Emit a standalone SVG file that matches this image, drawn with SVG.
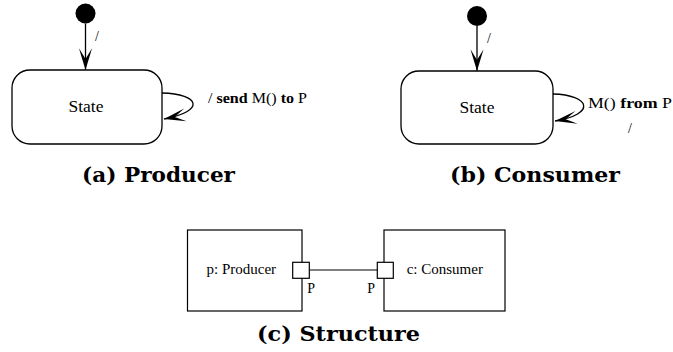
<svg xmlns="http://www.w3.org/2000/svg" width="673" height="352" viewBox="0 0 673 352">
<style>
  .bg { fill: #ffffff; }
  .state { fill: #ffffff; stroke: #000; stroke-width: 1.3; }
  .box { fill: #ffffff; stroke: #000; stroke-width: 1.2; }
  .port { fill: #ffffff; stroke: #000; stroke-width: 1.2; }
  .init { fill: #000; }
  .edge { fill: none; stroke: #000; stroke-width: 1.3; }
  .conn { fill: none; stroke: #000; stroke-width: 1.1; }
  .t { font-family: "Liberation Serif", "Times New Roman", serif; fill: #000; }
  .b { font-weight: bold; }
  .cap { font-family: "DejaVu Serif", "Liberation Serif", serif; font-weight: bold; font-size: 19.5px; fill: #000; }
</style>
<defs>
  <marker id="arr" markerUnits="userSpaceOnUse" markerWidth="24" markerHeight="16" viewBox="-21 -7 22 14" refX="0" refY="0" orient="auto">
    <path d="M0,0 L-20,-6 L-10,0 L-20,6 Z" fill="#000"/>
  </marker>
</defs>
<rect class="bg" x="0" y="0" width="673" height="352"/>

<g id="producer-initial">
  <circle class="init" cx="85.5" cy="13.5" r="10"/>
</g>
<g id="producer-state">
  <rect class="state" x="12" y="70" width="150" height="74" rx="18" ry="18"/>
  <text class="t" x="86" y="112" font-size="17.5" text-anchor="middle">State</text>
</g>

<g id="consumer-initial">
  <circle class="init" cx="477" cy="16" r="10"/>
</g>
<g id="consumer-state">
  <rect class="state" x="401" y="71" width="152" height="73" rx="18" ry="18"/>
  <text class="t" x="477" y="113" font-size="17.5" text-anchor="middle">State</text>
</g>

<g id="producer-part">
  <rect class="box" x="187.5" y="230" width="114.5" height="81"/>
  <text class="t" x="206.5" y="274.3" font-size="15">p: Producer</text>
  <rect class="port" x="292.7" y="262.3" width="16.6" height="16"/>
  <text class="t" x="307.3" y="293.3" font-size="14">P</text>
</g>
<g id="consumer-part">
  <rect class="box" x="384" y="230" width="121" height="81"/>
  <text class="t" x="406.7" y="274.3" font-size="15">c: Consumer</text>
  <rect class="port" x="377.3" y="262.3" width="16" height="16"/>
  <text class="t" x="367.3" y="293.3" font-size="14">P</text>
</g>

<g id="connectors">
  <line class="edge" x1="85.5" y1="23.5" x2="85.5" y2="70" marker-end="url(#arr)"/>
  <text class="t" x="95" y="41" font-size="14">/</text>
  <path class="edge" d="M162,93 C200,94 206,111 164,119" marker-end="url(#arr)"/>
  <text class="t" x="208" y="103" font-size="14" textLength="99" lengthAdjust="spacingAndGlyphs">/ <tspan class="b">send</tspan> M() <tspan class="b">to</tspan> P</text>

  <line class="edge" x1="477" y1="26" x2="477" y2="71" marker-end="url(#arr)"/>
  <text class="t" x="487" y="43" font-size="14">/</text>
  <path class="edge" d="M553,94 C590,95 597,114 555,121" marker-end="url(#arr)"/>
  <text class="t" x="588" y="108" font-size="14" textLength="84" lengthAdjust="spacingAndGlyphs">M() <tspan class="b">from</tspan> P</text>
  <text class="t" x="628" y="133" font-size="14">/</text>

  <line class="conn" x1="309.3" y1="270" x2="377.3" y2="270"/>
</g>

<text class="cap" x="82" y="181.5" textLength="153" lengthAdjust="spacingAndGlyphs">(a) Producer</text>
<text class="cap" x="450" y="182" textLength="170" lengthAdjust="spacingAndGlyphs">(b) Consumer</text>
<text class="cap" x="257" y="341" textLength="163" lengthAdjust="spacingAndGlyphs">(c) Structure</text>
</svg>
